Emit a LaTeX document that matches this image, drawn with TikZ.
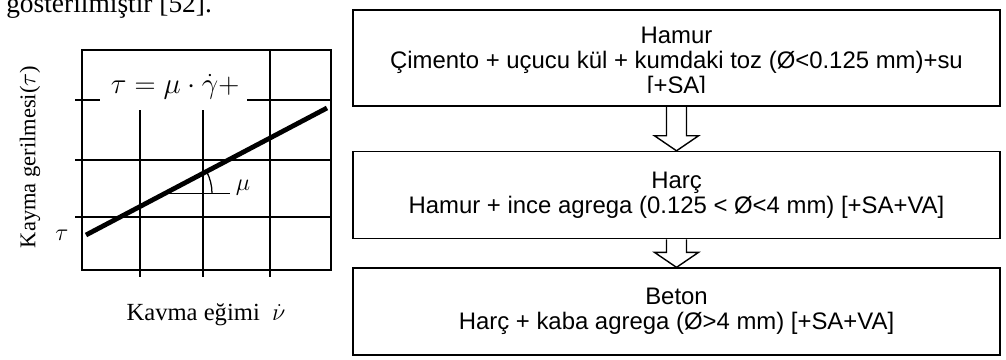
\documentclass[tikz,border=0pt]{standalone}
\usepackage{fontspec}
\setmainfont{Liberation Serif}
\newfontfamily\kutufont{Liberation Sans}
\usetikzlibrary{positioning,calc}

\tikzstyle{katman} = [draw=black, line width=1.1pt, rectangle,
    minimum width=16.175cm, inner sep=0pt]
\tikzstyle{metin} = [align=center, font=\kutufont\fontsize{17}{17.8}\selectfont]
\tikzstyle{okstil} = [draw=black, line width=1pt, line join=miter]
\tikzstyle{izgara} = [line width=0.9pt]

% blok ok: kutunun altindan digerinin ustune
\newcommand{\blokok}[2]{\draw[okstil] ($(#1.south)+(-10,0)$) -- ($(#2.north)+(-10,15)$)
  -- ($(#2.north)+(-22,15)$) -- (#2.north) -- ($(#2.north)+(22,15)$)
  -- ($(#2.north)+(10,15)$) -- ($(#1.south)+(10,0)$);}

\begin{document}
\begin{tikzpicture}[x=0.025cm, y=0.025cm]
\useasboundingbox (0,0) rectangle (1006,360);

\node[anchor=base west, inner sep=0pt, font=\fontsize{19.5}{22}\selectfont] (ust) at (6,347)
  {gösterilmiştir [52].};

% Bingham grafigi
\draw[izgara] (82,90) rectangle (331,310);
\foreach \x/\son in {140/250, 203/250, 270/310}
  \draw[izgara] (\x,83) -- (\x,\son);
\foreach \y in {200,143}
  \draw[izgara] (75,\y) -- (331,\y);
\draw[izgara] (75,260) -- (100,260);
\draw[izgara] (247,260) -- (331,260);
\draw[line width=3.4pt] (86,125) -- (327,252);
\coordinate (aci) at (165,166.6);
\draw[izgara] (aci) -- ++(65,0);
\draw[izgara] ($(aci)+(47,0)$) arc[start angle=0, end angle=27.8, radius=47];
\node[font=\fontsize{18}{20}\selectfont] (mu) at (243,172) {$\mu$};
\node[fill=white, inner sep=1pt, font=\fontsize{22}{26}\selectfont] (formul) at (175,273)
  {$\tau = \mu\cdot\dot{\gamma} +$};
\node[rotate=90, font=\fontsize{16}{18}\selectfont] (yeksen) at (30,203) {Kayma gerilmesi($\tau$)};
\node[font=\fontsize{18}{20}\selectfont] (tauo) at (62,125) {$\tau$};
\node[font=\fontsize{17.5}{20}\selectfont] (xeksen) at (206,45) {Kavma eğimi\ \ $\dot{\nu}$};

% akis kutulari
\node[katman, minimum height=2.4cm, path picture={
    \clip ([yshift=0.33cm]path picture bounding box.south west)
      rectangle (path picture bounding box.north east);
    \node[metin] at ([yshift=-0.125cm]path picture bounding box.center)
      {Hamur\\Çimento + uçucu kül + kumdaki toz (Ø<0.125 mm)+su\\{[+SA]}};
  }] (hamur) at (676.5,302) {};
\node[katman, metin, minimum height=2.175cm, below=1.1cm of hamur] (harc)
  {Harç\\Hamur + ince agrega (0.125 < Ø<4 mm) [+SA+VA]};
\node[katman, metin, minimum height=2.175cm, below=0.7cm of harc] (beton)
  {Beton\\Harç + kaba agrega (Ø>4 mm) [+SA+VA]};

\blokok{hamur}{harc}
\blokok{harc}{beton}
\end{tikzpicture}
\end{document}
